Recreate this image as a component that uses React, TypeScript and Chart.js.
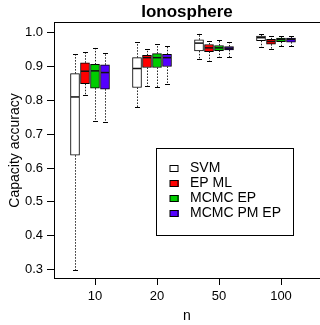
import React, { useEffect, useRef } from 'react';
import { Chart, registerables } from 'chart.js';

Chart.register(...registerables);

const categories = ['10', '20', '50', '100'];
const methods = ['SVM', 'EP ML', 'MCMC EP', 'MCMC PM EP'];
const colors = ['#ffffff', '#ff0000', '#00cd00', '#5500ff'];
const yTicks = [0.3, 0.4, 0.5, 0.6, 0.7, 0.8, 0.9, 1.0];

// each entry: [lower whisker, Q1, median, Q3, upper whisker]
const svm = [
  [0.298, 0.638, 0.81, 0.879, 0.937],
  [0.779, 0.838, 0.894, 0.926, 0.972],
  [0.923, 0.946, 0.969, 0.979, 0.997],
  [0.957, 0.976, 0.985, 0.99, 0.996],
];
const epMl = [
  [0.816, 0.849, 0.886, 0.911, 0.943],
  [0.842, 0.897, 0.926, 0.933, 0.951],
  [0.915, 0.944, 0.955, 0.965, 0.975],
  [0.953, 0.966, 0.974, 0.98, 0.99],
];
const mcmcEp = [
  [0.738, 0.836, 0.887, 0.906, 0.956],
  [0.838, 0.897, 0.926, 0.938, 0.965],
  [0.928, 0.947, 0.955, 0.962, 0.979],
  [0.96, 0.973, 0.98, 0.984, 0.991],
];
const mcmcPmEp = [
  [0.736, 0.833, 0.882, 0.905, 0.94],
  [0.847, 0.9, 0.926, 0.936, 0.96],
  [0.928, 0.949, 0.954, 0.959, 0.973],
  [0.96, 0.972, 0.98, 0.984, 0.99],
];
const series = [svm, epMl, mcmcEp, mcmcPmEp];

const BOX_STEP = 10 / 62;
const boxPos = (i: number, j: number) => i + 1 + (j - 2) * BOX_STEP;
const BOX_W = 9;

const FONT = "'Liberation Sans', Arial, Helvetica, sans-serif";

const boxplotPlugin = {
  id: 'boxplotExtras',
  afterDatasetsDraw(chart: any) {
    const { ctx, scales } = chart;
    const x = scales.x;
    const y = scales.y;
    ctx.save();
    series.forEach((s, j) => {
      s.forEach((st, i) => {
        const cx = Math.round(x.getPixelForValue(boxPos(i, j))) + 0.5;
        const yLo = y.getPixelForValue(st[0]);
        const yQ1 = y.getPixelForValue(st[1]);
        const yMed = y.getPixelForValue(st[2]);
        const yQ3 = y.getPixelForValue(st[3]);
        const yHi = y.getPixelForValue(st[4]);
        // whiskers
        ctx.strokeStyle = '#222';
        ctx.lineWidth = 1;
        ctx.setLineDash([1.5, 1.5]);
        ctx.beginPath();
        ctx.moveTo(cx, yQ3);
        ctx.lineTo(cx, yHi);
        ctx.moveTo(cx, yQ1);
        ctx.lineTo(cx, yLo);
        ctx.stroke();
        ctx.setLineDash([]);
        // caps
        ctx.strokeStyle = '#000';
        ctx.beginPath();
        ctx.moveTo(cx - 2.5, Math.round(yHi) + 0.5);
        ctx.lineTo(cx + 2.5, Math.round(yHi) + 0.5);
        ctx.moveTo(cx - 2.5, Math.round(yLo) + 0.5);
        ctx.lineTo(cx + 2.5, Math.round(yLo) + 0.5);
        ctx.stroke();
        // median
        ctx.lineWidth = 1.5;
        ctx.strokeStyle = '#111';
        ctx.beginPath();
        ctx.moveTo(cx - BOX_W / 2, yMed);
        ctx.lineTo(cx + BOX_W / 2 - 1, yMed);
        ctx.stroke();
      });
    });
    ctx.restore();
  },
  afterDraw(chart: any) {
    const { ctx, chartArea } = chart;
    ctx.save();
    // top frame line
    ctx.strokeStyle = '#000';
    ctx.lineWidth = 1;
    ctx.beginPath();
    ctx.moveTo(chartArea.left, Math.round(chartArea.top) - 0.5);
    ctx.lineTo(chartArea.right, Math.round(chartArea.top) - 0.5);
    ctx.stroke();
    // legend
    const lx = chartArea.left + 102.5;
    const ly = chartArea.top + 125.5;
    ctx.strokeRect(lx, ly, 137, 87);
    ctx.font = `14px ${FONT}`;
    ctx.textBaseline = 'middle';
    ctx.textAlign = 'left';
    methods.forEach((m, j) => {
      const rowY = ly + 20 + j * 15;
      ctx.fillStyle = colors[j];
      ctx.fillRect(lx + 13.5, Math.round(rowY - 3.5), 9, 7);
      ctx.strokeStyle = '#000';
      ctx.strokeRect(lx + 13.5, Math.round(rowY - 3.5) + 0.5, 8, 6);
      ctx.fillStyle = '#000';
      ctx.fillText(m, lx + 33.5, rowY);
    });
    ctx.restore();
  },
};

export default function App() {
  const ref = useRef<HTMLCanvasElement>(null);
  useEffect(() => {
    if (!ref.current) return;
    const chart = new Chart(ref.current, {
      type: 'bar',
      data: {
        datasets: methods.map((m, j) => ({
          label: m,
          data: series[j].map((st, i) => ({ x: boxPos(i, j), y: [st[1], st[3]] })),
          backgroundColor: colors[j],
          borderColor: '#000',
          borderWidth: 1,
          borderSkipped: false,
          barThickness: BOX_W,
          grouped: false,
        })) as any,
      },
      options: {
        responsive: false,
        animation: false,
        events: [],
        devicePixelRatio: 1,
        layout: { padding: 0 },
        plugins: {
          legend: { display: false },
          tooltip: { enabled: false },
          title: {
            display: true,
            text: 'Ionosphere',
            color: '#000',
            fullSize: false,
            font: { family: FONT, size: 17, weight: 'bold', lineHeight: 1.2 },
            padding: { top: 2.3, bottom: 0.3 },
          },
        },
        scales: {
          x: {
            type: 'linear',
            offset: false,
            min: 1 - 41 / 62,
            max: 1 - 41 / 62 + 266 / 62,
            afterBuildTicks: (s: any) => {
              s.ticks = categories.map((_, i) => ({ value: i + 1 }));
            },
            afterFit: (s: any) => {
              s.height = 47;
            },
            ticks: {
              color: '#000',
              font: { family: FONT, size: 13 },
              padding: 4,
              autoSkip: false,
              maxRotation: 0,
              callback: (_v: any, idx: number) => categories[idx],
            },
            grid: { display: true, offset: false, drawOnChartArea: false, drawTicks: true, tickLength: 7, color: '#000' },
            border: { display: true, color: '#000', width: 1 },
            title: {
              display: true,
              text: 'n',
              color: '#000',
              font: { family: FONT, size: 14 },
              padding: { top: 0, bottom: 0 },
            },
          },
          y: {
            type: 'linear',
            min: 0.2752,
            max: 1.0284,
            afterBuildTicks: (s: any) => {
              s.ticks = yTicks.map((v) => ({ value: v }));
            },
            afterFit: (s: any) => {
              s.width = 54;
            },
            ticks: {
              color: '#000',
              font: { family: FONT, size: 13 },
              padding: 4,
              callback: (v: any) => Number(v).toFixed(1),
            },
            grid: { display: true, drawOnChartArea: false, drawTicks: true, tickLength: 7, color: '#000' },
            border: { display: true, color: '#000', width: 1 },
            title: {
              display: true,
              text: 'Capacity accuracy',
              color: '#000',
              font: { family: FONT, size: 14 },
              padding: { top: 7, bottom: 0 },
            },
          },
        },
      } as any,
      plugins: [boxplotPlugin],
    });
    return () => chart.destroy();
  }, []);
  return (
    <div style={{ position: 'absolute', left: 0, top: 0, width: 320, height: 325, background: '#fff' }}>
      <canvas ref={ref} width={320} height={325} style={{ display: 'block', width: 320, height: 325 }} />
    </div>
  );
}
